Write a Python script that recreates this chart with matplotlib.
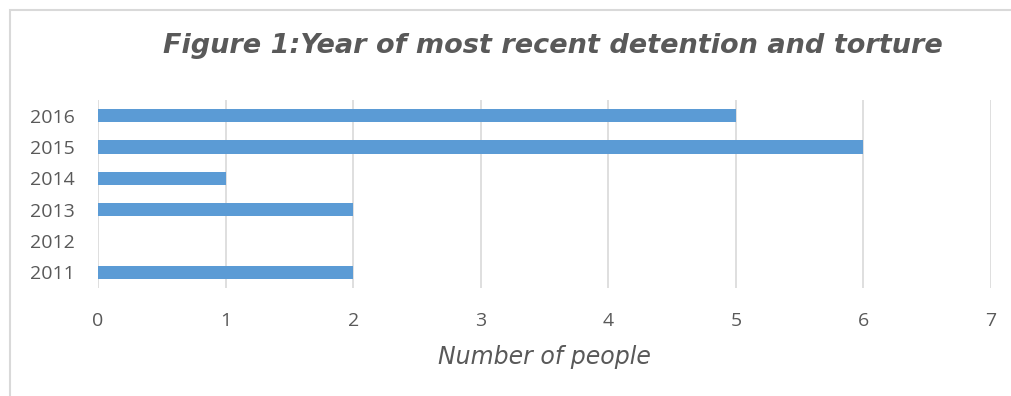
import matplotlib.pyplot as plt
from matplotlib.patches import Rectangle

years = ["2011", "2012", "2013", "2014", "2015", "2016"]
people = [2, 0, 2, 1, 6, 5]
x_ticks = [0, 1, 2, 3, 4, 5, 6, 7]

TEXT = "#595959"
GRID = "#D9D9D9"
BAR = "#5B9BD5"

fig = plt.figure(figsize=(10.12, 3.96), dpi=100)
ax = fig.add_axes([98 / 1012, 1 - 288 / 396, (991 - 98) / 1012, 188 / 396])

ax.barh(range(len(years)), people, height=0.42, color=BAR, zorder=3)
ax.set_ylim(-0.5, len(years) - 0.5)
ax.set_xlim(0, 7)
ax.set_yticks(range(len(years)))
ax.set_yticklabels(years)
ax.set_xticks(x_ticks)

ax.grid(axis="x", color=GRID, linewidth=1.2, zorder=0)
for s in ax.spines.values():
    s.set_visible(False)
ax.tick_params(axis="both", length=0, colors=TEXT, labelsize=14, labelfontfamily="Open Sans")
ax.tick_params(axis="y", pad=17)
ax.tick_params(axis="x", pad=17)

ax.set_xlabel("Number of people", fontsize=17, color=TEXT, style="italic",
              family="DejaVu Sans", labelpad=11)

fig.text(553 / 1012, 1 - 46 / 396, "Figure 1:Year of most recent detention and torture",
         ha="center", va="center", fontsize=19.5, color=TEXT, style="italic",
         weight="bold", family="DejaVu Sans")

# chart border
fig.patches.append(Rectangle((10 / 1012, -0.1), 1.2, 1 - 10 / 396 + 0.1,
                             transform=fig.transFigure, fill=False,
                             edgecolor=GRID, linewidth=1.5))

fig.savefig("out.png", dpi=100)
